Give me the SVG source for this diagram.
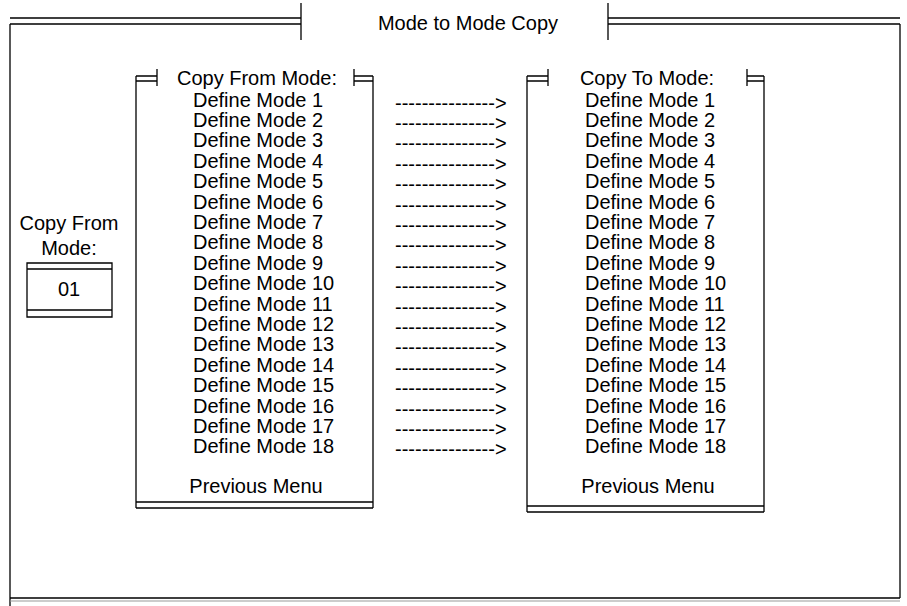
<svg xmlns="http://www.w3.org/2000/svg" width="907" height="606" viewBox="0 0 907 606">
<style>
.l{stroke:#000;stroke-width:1.3;fill:none}
.g{stroke:#999;stroke-width:1;fill:none}
text{font-family:"Liberation Sans",Arial,sans-serif;font-size:20px;fill:#000}
.c{text-anchor:middle}
</style>
<rect width="907" height="606" fill="#fff"/>
<g id="frame">
<path class="l" d="M10,24V606M900,24V598M10,598H900M10,18H301M10,24H301M608,18H900M608,24H900M301,3V40M608,3V40"/>
<path class="g" d="M10,601H900"/>
<text class="c" x="468" y="30">Mode to Mode Copy</text>
</g>
<g id="copyFromBox">
<text class="c" x="69" y="230">Copy From</text>
<text class="c" x="69" y="255">Mode:</text>
<path class="l" d="M27,263H112V317H27ZM27,269H112M27,310H112"/>
<text class="c" x="69" y="296">01</text>
</g>
<g id="fromPanel">
<path class="l" d="M136,76H157M136,81H157M157,69V86M354,76H373M354,81H373M354,69V86M136,76V508M373,76V508M136,502H373M136,508H373"/>
<text class="c" x="257" y="85">Copy From Mode:</text>
<g id="fromList">
<text x="193" y="106.5">Define Mode 1</text>
<text x="193" y="126.9">Define Mode 2</text>
<text x="193" y="147.3">Define Mode 3</text>
<text x="193" y="167.7">Define Mode 4</text>
<text x="193" y="188.1">Define Mode 5</text>
<text x="193" y="208.5">Define Mode 6</text>
<text x="193" y="228.9">Define Mode 7</text>
<text x="193" y="249.3">Define Mode 8</text>
<text x="193" y="269.7">Define Mode 9</text>
<text x="193" y="290.1">Define Mode 10</text>
<text x="193" y="310.5">Define Mode 11</text>
<text x="193" y="330.9">Define Mode 12</text>
<text x="193" y="351.3">Define Mode 13</text>
<text x="193" y="371.7">Define Mode 14</text>
<text x="193" y="392.1">Define Mode 15</text>
<text x="193" y="412.5">Define Mode 16</text>
<text x="193" y="432.9">Define Mode 17</text>
<text x="193" y="453.3">Define Mode 18</text>
</g>
<text class="c" x="256" y="493">Previous Menu</text>
</g>
<g id="connectors">
<text x="395" y="109.5">---------------&gt;</text>
<text x="395" y="129.9">---------------&gt;</text>
<text x="395" y="150.3">---------------&gt;</text>
<text x="395" y="170.7">---------------&gt;</text>
<text x="395" y="191.1">---------------&gt;</text>
<text x="395" y="211.5">---------------&gt;</text>
<text x="395" y="231.9">---------------&gt;</text>
<text x="395" y="252.3">---------------&gt;</text>
<text x="395" y="272.7">---------------&gt;</text>
<text x="395" y="293.1">---------------&gt;</text>
<text x="395" y="313.5">---------------&gt;</text>
<text x="395" y="333.9">---------------&gt;</text>
<text x="395" y="354.3">---------------&gt;</text>
<text x="395" y="374.7">---------------&gt;</text>
<text x="395" y="395.1">---------------&gt;</text>
<text x="395" y="415.5">---------------&gt;</text>
<text x="395" y="435.9">---------------&gt;</text>
<text x="395" y="456.3">---------------&gt;</text>
</g>
<g id="toPanel">
<path class="l" d="M527,76H548M527,81H548M548,69V86M747,76H764M747,81H764M747,69V86M527,76V512M764,76V512M527,506H764M527,512H764"/>
<text class="c" x="647" y="85">Copy To Mode:</text>
<g id="toList">
<text x="585" y="106.5">Define Mode 1</text>
<text x="585" y="126.9">Define Mode 2</text>
<text x="585" y="147.3">Define Mode 3</text>
<text x="585" y="167.7">Define Mode 4</text>
<text x="585" y="188.1">Define Mode 5</text>
<text x="585" y="208.5">Define Mode 6</text>
<text x="585" y="228.9">Define Mode 7</text>
<text x="585" y="249.3">Define Mode 8</text>
<text x="585" y="269.7">Define Mode 9</text>
<text x="585" y="290.1">Define Mode 10</text>
<text x="585" y="310.5">Define Mode 11</text>
<text x="585" y="330.9">Define Mode 12</text>
<text x="585" y="351.3">Define Mode 13</text>
<text x="585" y="371.7">Define Mode 14</text>
<text x="585" y="392.1">Define Mode 15</text>
<text x="585" y="412.5">Define Mode 16</text>
<text x="585" y="432.9">Define Mode 17</text>
<text x="585" y="453.3">Define Mode 18</text>
</g>
<text class="c" x="648" y="493">Previous Menu</text>
</g>
</svg>
